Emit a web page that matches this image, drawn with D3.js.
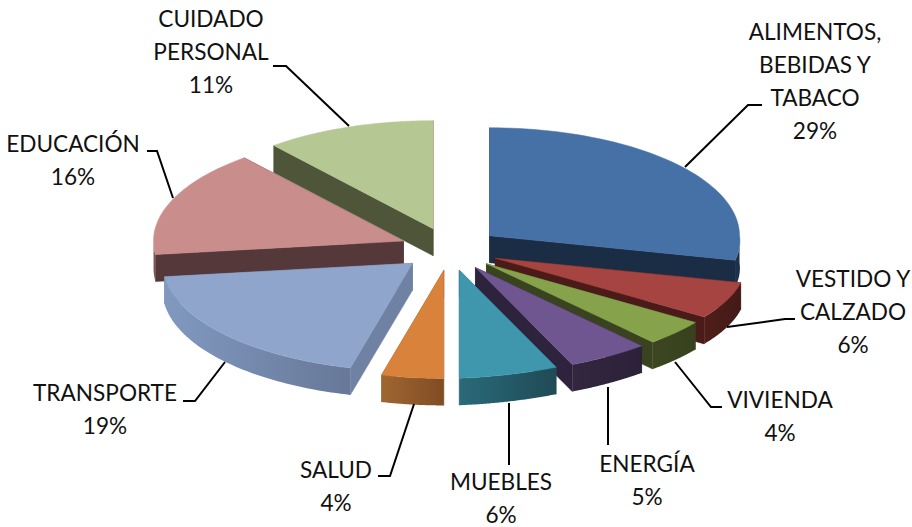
<!DOCTYPE html>
<html>
<head>
<meta charset="utf-8">
<script src="https://cdnjs.cloudflare.com/ajax/libs/d3/7.8.5/d3.min.js"></script>
<style>
html,body{margin:0;padding:0;background:#fff}
svg{display:block}
text{font-family:Lato,"Open Sans",sans-serif;font-size:22.6px;fill:#111}
</style>
</head>
<body>
<svg id="c" width="912" height="527"></svg>
<script>
// Data
const categories = [["ALIMENTOS,","BEBIDAS Y","TABACO"],["VESTIDO Y","CALZADO"],["VIVIENDA"],["ENERGÍA"],["MUEBLES"],["SALUD"],["TRANSPORTE"],["EDUCACIÓN"],["CUIDADO","PERSONAL"]];
const values = [29,6,4,5,6,4,19,16,11];

// Styles
const topColors  = ["#4671A6","#A64441","#86A34C","#6F5690","#3F97AE","#D9823C","#8FA5CC","#C98E8C","#B5C793"];
const cutColors  = ["#1A2D45","#4A1B18","#3A431F","#2E233C","#22525E","#8A5526","#7082A3","#55393A","#4E5538"];
const wallLight  = ["#1E3550","#4F1E1A","#3C4620","#33273F","#2A6A79","#A06632","#8199C0","#8A5F5E","#7F8F66"];
const wallDark   = ["#1A2D45","#431A17","#38411E","#2B2139","#1F4A55","#7F4C22","#677898","#6E4A49","#66734F"];

// Layout
const W = 912, H = 527;
const cx = 450, cy = 249, rx = 250, ry = 108, explode = 50, depth = 27;
const persp = {dx:7, dy:-5};
const labelLayout = [
  {x:815, y:31,  line:[[685,167],[748,105],[762,105]]},
  {x:853, y:278, line:[[727,327],[785,319],[795,319]]},
  {x:780, y:399, line:[[675,362],[711,407],[722,407]]},
  {x:647, y:463, line:[[608,387],[608,445]]},
  {x:501, y:481, line:[[509,403],[509,465]]},
  {x:336, y:469, line:[[414,404],[390,476],[378,476]]},
  {x:105, y:392, line:[[225,362],[195,401],[183,401]]},
  {x:73,  y:143, line:[[173,198],[157,151],[147,151]]},
  {x:211, y:18,  line:[[349,126],[286,66],[273,66]]}
];
const lineGap = 33;

const svg = d3.select("#c");
const defs = svg.append("defs");
const pie = d3.pie().sort(null).value(d => d);
const arcs = pie(values);

// Projection: slice-local angle (clockwise from 12 o'clock) onto the tilted plane,
// with the slight perspective bulge of the near-right quadrant
const sx = d3.scaleLinear().domain([-1,1]).range([-rx,rx]);
const sy = d3.scaleLinear().domain([-1,1]).range([ry,-ry]);
const bump = a => (a>Math.PI/2 && a<Math.PI) ? Math.sin(2*(a-Math.PI/2)) : 0;
const rim = (o,a,dz=0) => [o[0]+sx(Math.sin(a))+persp.dx*bump(a), o[1]+sy(Math.cos(a))+persp.dy*bump(a)+dz];
const line = d3.line();
const arcPts = (o,a0,a1,dz=0) => d3.range(0,61).map(i => rim(o,a0+(a1-a0)*i/60,dz));

const g = svg.append("g");
const order = arcs.map((d,i)=>({d,i,mid:(d.startAngle+d.endAngle)/2}))
  .sort((a,b)=>Math.cos(b.mid)-Math.cos(a.mid));

order.forEach(({d,i,mid})=>{
  const o = [cx+explode*Math.sin(mid), cy-explode*Math.cos(mid)*ry/rx];
  const a0=d.startAngle,a1=d.endAngle;
  const s = g.append("g").attr("class","slice");
  // radial cut faces
  [a0,a1].forEach(a=>{
    const p=rim(o,a);
    s.append("path")
      .attr("d",line([o,p,[p[0],p[1]+depth],[o[0],o[1]+depth]])+"Z")
      .attr("fill",cutColors[i]).attr("stroke",cutColors[i]).attr("stroke-width",.5);
  });
  // outer wall on the near half of the rim
  const w0=Math.max(a0,Math.PI/2), w1=Math.min(a1,Math.PI*1.5);
  if(w1>w0){
    const top=arcPts(o,w0,w1), bot=arcPts(o,w0,w1,depth).reverse();
    const xs=top.map(p=>p[0]);
    const id="w"+i;
    const gr=defs.append("linearGradient").attr("id",id).attr("gradientUnits","userSpaceOnUse")
      .attr("x1",d3.min(xs)).attr("x2",d3.max(xs)).attr("y1",0).attr("y2",0);
    gr.append("stop").attr("offset",0).attr("stop-color",wallLight[i]);
    gr.append("stop").attr("offset",1).attr("stop-color",wallDark[i]);
    s.append("path").attr("d",line(top.concat(bot))+"Z").attr("fill",`url(#${id})`);
  }
  // top face
  s.append("path")
    .attr("d",line([o].concat(arcPts(o,a0,a1)))+"Z")
    .attr("fill",topColors[i]).attr("stroke",topColors[i]).attr("stroke-width",.5);
});

// Leader lines and labels
const lab = svg.append("g");
categories.forEach((names,i)=>{
  const L=labelLayout[i];
  lab.append("path").attr("d",line(L.line)).attr("fill","none").attr("stroke","#000").attr("stroke-width",2);
  const rows=names.concat([values[i]+"%"]);
  rows.forEach((t,k)=>{
    lab.append("text").attr("x",L.x).attr("y",L.y+k*lineGap)
      .attr("text-anchor","middle").attr("dominant-baseline","central").text(t);
  });
});
</script>
</body>
</html>
